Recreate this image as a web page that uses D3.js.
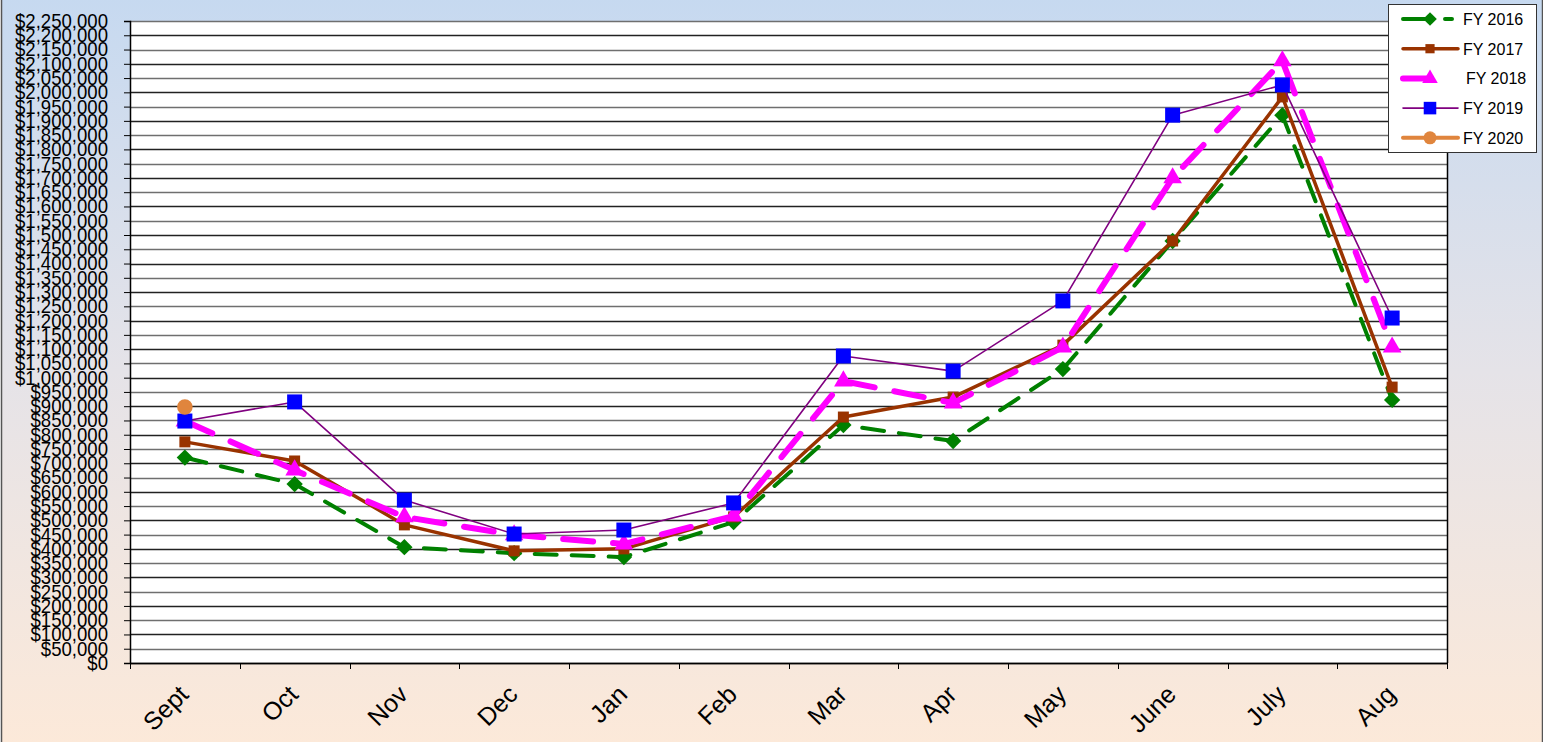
<!DOCTYPE html>
<html>
<head>
<meta charset="utf-8">
<script src="https://cdn.jsdelivr.net/npm/d3@7"></script>
<style>
  body { margin: 0; padding: 0; overflow: hidden; }
  text { font-family: "Liberation Sans", Arial, sans-serif; }
</style>
</head>
<body>
<div id="my_dataviz"></div>
<script>

// months of the fiscal year
var months = ["Sept", "Oct", "Nov", "Dec", "Jan", "Feb", "Mar", "Apr", "May", "June", "July", "Aug"];

// monthly totals
var fy2016 = [720000, 627000, 406000, 385000, 371000, 494000, 834000, 778000, 1030000, 1479000, 1920000, 922000];
var fy2017 = [775000, 708000, 484000, 393000, 400000, 512000, 862000, 932000, 1114000, 1479000, 1984000, 967000];
var fy2018 = [848000, 676000, 512000, 449000, 417000, 515000, 988000, 911000, 1107000, 1700000, 2110000, 1107000];
var fy2019 = [848000, 915000, 571000, 452000, 466000, 561000, 1076000, 1023000, 1269000, 1920000, 2026000, 1209000];
var fy2020 = [897000];

var seriesNames = ["FY 2016", "FY 2017", "FY 2018", "FY 2019", "FY 2020"];

var yTicks = d3.range(0, 2250001, 50000);

// set the dimensions and margins of the graph
var W = 1543, H = 742;
var margin = {top: 21, right: 96, bottom: 79, left: 130},
  width = W - margin.left - margin.right,
  height = H - margin.top - margin.bottom;

var svgRoot = d3.select("#my_dataviz")
  .append("svg")
    .attr("width", W)
    .attr("height", H);

// background gradient
var grad = svgRoot.append("defs").append("linearGradient")
  .attr("id", "bg")
  .attr("x1", 0).attr("y1", 0).attr("x2", 0).attr("y2", 1);
grad.append("stop").attr("offset", "0%").attr("stop-color", "#c6d9f0");
grad.append("stop").attr("offset", "50%").attr("stop-color", "#e5e3e8");
grad.append("stop").attr("offset", "100%").attr("stop-color", "#fce9d9");

svgRoot.append("rect")
  .attr("x", 1.5).attr("y", -2)
  .attr("width", W - 2).attr("height", H + 4)
  .attr("fill", "url(#bg)")
  .attr("stroke", "#555")
  .attr("stroke-width", 1.5);

var svg = svgRoot.append("g")
  .attr("transform", "translate(" + margin.left + "," + margin.top + ")");

// plot area
svg.append("rect")
  .attr("width", width)
  .attr("height", height)
  .attr("fill", "#fff");

// scales
var x = d3.scaleBand()
  .domain(months)
  .range([0, width]);

var y = d3.scaleLinear()
  .domain([0, 2250000])
  .range([height, 0]);

// gridlines
svg.append("g")
  .selectAll("line")
  .data(yTicks)
  .enter()
  .append("line")
    .attr("x1", 0)
    .attr("x2", width)
    .attr("y1", function(d) { return Math.round(y(d)) + 0.5; })
    .attr("y2", function(d) { return Math.round(y(d)) + 0.5; })
    .attr("stroke", function(d, i) { return i % 2 == 0 ? "#222" : "#6f6f6f"; })
    .attr("stroke-width", 1.4);

// Y axis (labels squeezed horizontally, like a narrow font)
var squeeze = 0.93;
var yAxis = svg.append("g")
  .call(d3.axisLeft(y)
    .tickValues(yTicks)
    .tickSize(6)
    .tickPadding(16)
    .tickFormat(function(d) { return "$" + d3.format(",")(d); }));
yAxis.select(".domain").attr("stroke", "#000").attr("stroke-width", 1.5);
yAxis.selectAll(".tick line").attr("stroke", "#000");
yAxis.selectAll("text")
  .attr("x", -22 / squeeze)
  .attr("transform", "scale(" + squeeze + ",1)")
  .style("font-size", "20px")
  .attr("fill", "#000");

// X axis
var xAxis = svg.append("g")
  .attr("transform", "translate(0," + height + ")")
  .call(d3.axisBottom(x).tickSize(0).tickFormat(""));
xAxis.select(".domain").attr("stroke", "#000").attr("stroke-width", 1.5);

// tick marks at band edges
svg.append("g")
  .selectAll("line")
  .data(d3.range(months.length + 1))
  .enter()
  .append("line")
    .attr("x1", function(i) { return Math.round(i * x.step()) + 0.5; })
    .attr("x2", function(i) { return Math.round(i * x.step()) + 0.5; })
    .attr("y1", height)
    .attr("y2", height + 6)
    .attr("stroke", "#000");

// rotated month labels
svg.append("g")
  .selectAll("text")
  .data(months)
  .enter()
  .append("text")
    .attr("text-anchor", "end")
    .attr("transform", function(d) {
      return "translate(" + (x(d) + x.bandwidth() / 2 + 5) + "," + (height + 33) + ") rotate(-45)";
    })
    .style("font-size", "25px")
    .attr("fill", "#000")
    .text(function(d) { return d; });

// right edge of plot
svg.append("line")
  .attr("x1", width + 0.5).attr("x2", width + 0.5)
  .attr("y1", 0).attr("y2", height)
  .attr("stroke", "#000").attr("stroke-width", 1.5);

var px = function(d, i) { return x(months[i]) + x.bandwidth() / 2; };
var line = d3.line()
  .x(px)
  .y(function(d) { return y(d); });

var series = [
  {name: seriesNames[0], values: fy2016, color: "#008000", width: 4, dash: "22,15", marker: "diamond", msize: 170, mcolor: "#008000"},
  {name: seriesNames[1], values: fy2017, color: "#993300", width: 3.5, dash: null, marker: "square", msize: 121, mcolor: "#993300"},
  {name: seriesNames[2], values: fy2018, color: "#ff00ff", width: 6, dash: "30,20", marker: "triangle", msize: 150, mcolor: "#ff00ff"},
  {name: seriesNames[3], values: fy2019, color: "#800080", width: 1.6, dash: null, marker: "square", msize: 225, mcolor: "#0000ff"},
  {name: seriesNames[4], values: fy2020, color: "#e0853d", width: 4, dash: null, marker: "circle", msize: 190, mcolor: "#e0853d"}
];

var symbols = {
  diamond: d3.symbolDiamond2,
  square: d3.symbolSquare,
  triangle: d3.symbolTriangle,
  circle: d3.symbolCircle
};

series.forEach(function(s) {
  var g = svg.append("g");
  g.append("path")
    .datum(s.values)
    .attr("fill", "none")
    .attr("stroke", s.color)
    .attr("stroke-width", s.width)
    .attr("stroke-linecap", s.dash ? "round" : "butt")
    .attr("stroke-linejoin", "round")
    .attr("stroke-dasharray", s.dash)
    .attr("d", line);
  g.selectAll("path.m")
    .data(s.values)
    .enter()
    .append("path")
      .attr("class", "m")
      .attr("transform", function(d, i) { return "translate(" + px(d, i) + "," + y(d) + ")"; })
      .attr("d", d3.symbol().type(symbols[s.marker]).size(s.msize))
      .attr("fill", s.mcolor);
});

// legend
var legend = svgRoot.append("g");
legend.append("rect")
  .attr("x", 1388.5).attr("y", 4.5)
  .attr("width", 148).attr("height", 148)
  .attr("fill", "#fff")
  .attr("stroke", "#333")
  .attr("stroke-width", 1);

series.forEach(function(s, i) {
  var ly = 19 + i * 29.7;
  var x2 = s.marker == "triangle" ? 1441 : 1458;
  legend.append("line")
    .attr("x1", 1403).attr("x2", x2)
    .attr("y1", ly).attr("y2", ly)
    .attr("stroke", s.color)
    .attr("stroke-width", s.width)
    .attr("stroke-linecap", "round")
    .attr("stroke-dasharray", s.dash ? "28,14,7" : null);
  legend.append("path")
    .attr("transform", "translate(1430," + ly + ")")
    .attr("d", d3.symbol().type(symbols[s.marker]).size(s.msize * 0.7))
    .attr("fill", s.mcolor);
  legend.append("text")
    .attr("x", s.marker == "triangle" ? 1466 : 1463)
    .attr("y", ly + 6)
    .style("font-size", "16px")
    .attr("fill", "#000")
    .text(s.name);
});

</script>
</body>
</html>
